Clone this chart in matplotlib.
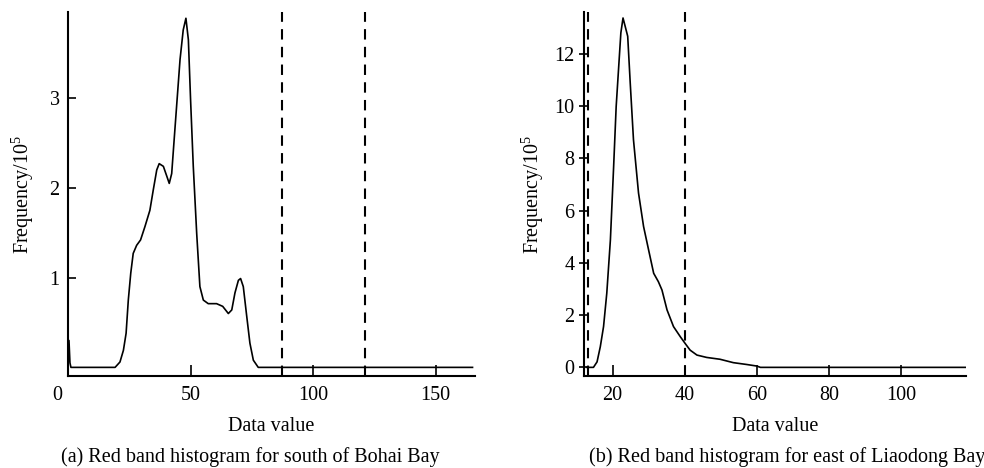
import matplotlib
matplotlib.use("Agg")
import matplotlib.pyplot as plt
import matplotlib.transforms as mtransforms

plt.rcParams['font.family'] = ['Liberation Serif', 'DejaVu Serif']
plt.rcParams['mathtext.fontset'] = 'custom'
plt.rcParams['mathtext.rm'] = 'Liberation Serif'

# Panel (a): south of Bohai Bay
a_x = [0.0, 0.4, 0.8, 1.2, 19.2, 21.2, 22.6, 23.7, 24.6, 25.6, 26.6, 28.0, 29.6,
       31.4, 33.4, 34.8, 36.2, 37.2, 38.9, 40.3, 41.3, 42.3, 43.2, 44.3, 45.7,
       47.0, 48.1, 49.1, 50.0, 51.1, 52.5, 53.8, 55.2, 57.2, 60.6, 63.1, 65.4,
       66.8, 68.1, 69.5, 70.4, 71.5, 72.9, 74.2, 75.6, 77.6, 165.0]
a_y = [0.0, 0.30, 0.05, 0.0, 0.0, 0.06, 0.19, 0.38, 0.75, 1.05, 1.27, 1.36, 1.42,
       1.57, 1.75, 1.98, 2.20, 2.27, 2.24, 2.13, 2.05, 2.16, 2.50, 2.91, 3.43,
       3.76, 3.89, 3.65, 2.98, 2.24, 1.49, 0.90, 0.75, 0.71, 0.71, 0.68, 0.60,
       0.64, 0.83, 0.97, 0.99, 0.90, 0.57, 0.27, 0.08, 0.0, 0.0]
a_dash = [87.4, 121.1]
a_xticks = [0, 50, 100, 150]
a_yticks = [1, 2, 3]

# Panel (b): east of Liaodong Bay
b_x = [12.8, 14.7, 15.7, 16.6, 17.5, 18.4, 19.4, 20.3, 21.0, 21.7, 22.3, 22.9,
       23.5, 24.2, 24.9, 25.8, 27.2, 28.6, 30.0, 31.4, 32.7, 33.7, 35.1, 36.9,
       38.8, 40.1, 41.5, 43.4, 46.1, 49.8, 53.5, 57.2, 60.0, 61.0, 118.0]
b_y = [0.0, 0.0, 0.21, 0.79, 1.56, 2.84, 4.88, 7.69, 9.98, 11.5, 12.8, 13.37,
       13.05, 12.67, 10.88, 8.71, 6.67, 5.39, 4.49, 3.60, 3.28, 2.96, 2.20, 1.56,
       1.17, 0.92, 0.66, 0.47, 0.38, 0.31, 0.18, 0.11, 0.05, 0.0, 0.0]
b_dash = [13.1, 40.0]
b_xticks = [20, 40, 60, 80, 100]
b_yticks = [0, 2, 4, 6, 8, 10, 12]

fig = plt.figure(figsize=(9.84, 4.68), dpi=100)
fs = 14.5

ax1 = fig.add_axes([0.0691, 0.1966, 0.4136, 0.7778])
ax2 = fig.add_axes([0.5932, 0.1966, 0.3885, 0.7778])


def style(ax):
    for s in ['top', 'right']:
        ax.spines[s].set_visible(False)
    for s in ['left', 'bottom']:
        ax.spines[s].set_linewidth(1.5)
    ax.tick_params(labelsize=fs, width=1.2)


# Panel a
ax1.plot(a_x, a_y, color='black', lw=1.2)
for d in a_dash:
    ax1.axvline(d, color='black', lw=1.5, ls=(0, (5, 3.5)))
ax1.set_xlim(0, 166)
ax1.set_ylim(-0.096, 3.96)
ax1.set_xticks(a_xticks)
ax1.set_yticks(a_yticks)
style(ax1)
ax1.tick_params(axis='x', direction='in', length=8, pad=7)
ax1.tick_params(axis='y', direction='in', length=6, pad=6)
t0 = ax1.xaxis.get_major_ticks()[0]
t0.tick1line.set_visible(False)
off = mtransforms.ScaledTranslation(-11 / 100, 0, fig.dpi_scale_trans)
t0.label1.set_transform(t0.label1.get_transform() + off)
ax1.set_xlabel('Data value', fontsize=fs, labelpad=9)
ax1.set_ylabel('Frequency/10$^5$', fontsize=fs, labelpad=10)

# Panel b
ax2.plot(b_x, b_y, color='black', lw=1.2)
for d in b_dash:
    ax2.axvline(d, color='black', lw=1.5, ls=(0, (5, 3.5)))
ax2.set_xlim(12, 118)
ax2.set_ylim(-0.33, 13.6)
ax2.set_xticks(b_xticks)
ax2.set_yticks(b_yticks)
style(ax2)
ax2.tick_params(axis='x', direction='in', length=8, pad=7)
ax2.tick_params(axis='y', direction='inout', length=7, pad=3)
ax2.set_xlabel('Data value', fontsize=fs, labelpad=9)
ax2.set_ylabel('Frequency/10$^5$', fontsize=fs, labelpad=6)

fig.text(0.254, 0.024, '(a) Red band histogram for south of Bohai Bay',
         fontsize=fs, ha='center', va='center')
fig.text(0.80, 0.024, '(b) Red band histogram for east of Liaodong Bay',
         fontsize=fs, ha='center', va='center')

fig.savefig('out.png', dpi=100, facecolor='white')
